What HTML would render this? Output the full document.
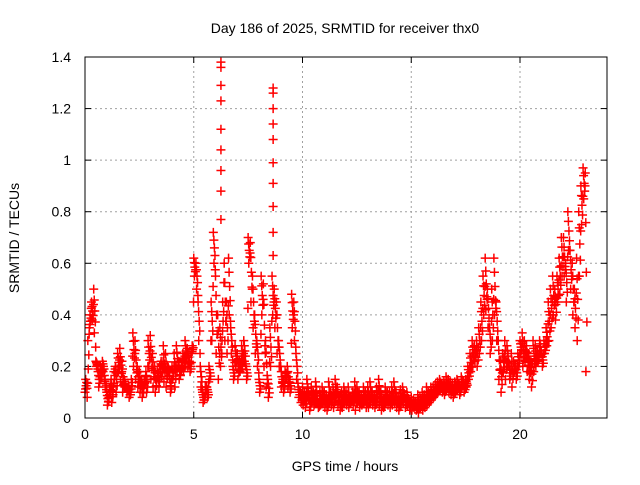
<!DOCTYPE html>
<html><head><meta charset="utf-8"><style>
body{margin:0;background:#fff;width:640px;height:480px;overflow:hidden}
svg{font-family:"Liberation Sans",sans-serif}
</style></head><body>
<svg id="chart" width="640" height="480" viewBox="0 0 640 480">
<text x="345" y="33" font-size="14" text-anchor="middle">Day 186 of 2025, SRMTID for receiver thx0</text>
<text x="345" y="471" font-size="14" text-anchor="middle">GPS time / hours</text>
<text transform="translate(19,238) rotate(-90)" font-size="14" text-anchor="middle">SRMTID / TECUs</text>
<g id="grid"></g><g id="ticks"></g><g id="marks"></g>
<rect x="85" y="57" width="522" height="361" fill="none" stroke="#000" stroke-width="1"/>
</svg>
<script>
const xTicks=[0,5,10,15,20];
const yTicks=[0,0.2,0.4,0.6,0.8,1,1.2,1.4];
const yTickLabels=["0","0.2","0.4","0.6","0.8","1","1.2","1.4"];
const startHour=0, stepHour=0.1;
const valuesA=[.10,.08,.35,.45,.50,.22,.18,.20,.22,.15,
.10,.08,.15,.12,.20,.25,.27,.22,.15,.12,
.12,.10,.33,.30,.20,.18,.15,.12,.18,.30,
.32,.25,.20,.15,.12,.22,.28,.25,.20,.15,
.20,.25,.28,.22,.18,.25,.30,.27,.22,.25,
.62,.60,.45,.20,.10,.08,.12,.20,.45,.72,
.55,.40,.35,.30,.60,.45,.62,.35,.20,.28,
.25,.22,.28,.30,.20,.70,.68,.55,.40,.30,
.15,.55,.52,.30,.15,.35,.55,.50,.45,.30,
.20,.15,.18,.20,.15,.48,.45,.25,.12,.10,
.12,.10,.15,.08,.12,.10,.14,.06,.10,.12,
.10,.08,.14,.10,.12,.15,.12,.08,.10,.12,
.10,.12,.08,.10,.14,.12,.10,.08,.12,.10,
.12,.14,.10,.09,.12,.15,.10,.08,.12,.10,
.10,.12,.14,.10,.08,.11,.12,.09,.10,.07,
.08,.07,.06,.09,.08,.10,.09,.12,.10,.12,
.12,.13,.14,.15,.13,.14,.16,.15,.14,.13,
.14,.15,.13,.16,.14,.15,.20,.25,.30,.28,
.30,.35,.45,.55,.62,.50,.35,.50,.62,.45,
.30,.22,.25,.30,.28,.20,.25,.22,.20,.25,
.30,.33,.30,.28,.25,.22,.30,.28,.25,.30,
.25,.30,.35,.45,.50,.55,.50,.55,.62,.70,
.70,.60,.80,.65,.60,.50,.62,.80,.90,.97,.95];
const valuesB=[.15,.30,.40,.38,.33,.20,.12,.15,.18,.12,
.05,.12,.06,.18,.10,.18,.14,.10,.12,.10,
.08,.15,.20,.15,.12,.10,.08,.15,.10,.20,
.15,.12,.10,.18,.20,.16,.14,.12,.18,.10,
.15,.12,.18,.15,.20,.18,.22,.20,.18,.28,
.55,.50,.30,.12,.06,.12,.08,.15,.30,.60,
.25,.15,.20,.45,.30,.25,.40,.25,.15,.20,
.15,.18,.20,.22,.15,.60,.45,.35,.25,.20,
.10,.40,.20,.12,.08,.20,.40,.35,.25,.20,
.12,.10,.15,.12,.10,.35,.30,.15,.08,.06,
.05,.04,.08,.03,.06,.05,.07,.04,.05,.06,
.04,.03,.06,.05,.04,.07,.05,.03,.04,.06,
.05,.04,.06,.05,.03,.06,.04,.05,.06,.04,
.04,.06,.05,.04,.06,.05,.03,.04,.06,.05,
.04,.05,.06,.04,.03,.05,.06,.04,.05,.03,
.03,.04,.03,.02,.04,.03,.04,.05,.06,.07,
.08,.09,.10,.11,.10,.09,.11,.10,.09,.08,
.10,.11,.09,.12,.10,.12,.15,.18,.20,.22,
.20,.25,.30,.40,.42,.35,.25,.30,.40,.30,
.15,.10,.18,.15,.20,.15,.12,.18,.15,.20,
.25,.20,.22,.18,.15,.12,.18,.20,.22,.25,
.20,.25,.28,.30,.35,.40,.38,.45,.48,.55,
.55,.45,.65,.50,.40,.35,.30,.55,.75,.85,.18];
const spikeTimes=[6.25,6.25,6.25,6.25,6.25,6.25,6.25,6.25,6.25,8.65,8.65,8.65,8.65,8.65,8.65,8.65,8.65,8.65,8.65];
const spikeValues=[1.38,1.36,1.29,1.23,1.12,1.04,0.96,0.88,0.77,1.28,1.26,1.20,1.14,1.08,0.99,0.91,0.82,0.72,0.63];
const NS='http://www.w3.org/2000/svg';
const X0=85,X1=607,Y0=418,Y1=57,XMAX=24,YMAX=1.4;
function xs(h){return X0+(X1-X0)*h/XMAX;}
function ys(v){return Y0-(Y0-Y1)*v/YMAX;}
function mk(tag,attrs,parent){const e=document.createElementNS(NS,tag);for(const k in attrs)e.setAttribute(k,attrs[k]);parent.appendChild(e);return e;}
const grid=document.getElementById('grid'),ticks=document.getElementById('ticks'),marks=document.getElementById('marks');
xTicks.forEach(t=>{const x=xs(t);
 if(t>0){const g=mk('line',{x1:x,y1:Y0,x2:x,y2:Y1,stroke:'#a0a0a0','stroke-dasharray':'2,3'},grid);
 
 }
 mk('line',{x1:x,y1:Y0,x2:x,y2:Y0-6,stroke:'#000'},ticks);
 mk('line',{x1:x,y1:Y1,x2:x,y2:Y1+6,stroke:'#000'},ticks);
 const l=mk('text',{x:x,y:Y0+21,'font-size':14,'text-anchor':'middle'},ticks);l.textContent=t;
 
 
});
yTicks.forEach((t,i)=>{const y=ys(t);
 if(t>0&&t<YMAX){const g=mk('line',{x1:X0,y1:y,x2:X1,y2:y,stroke:'#a0a0a0','stroke-dasharray':'2,3'},grid);
 
 }
 mk('line',{x1:X0,y1:y,x2:X0+6,y2:y,stroke:'#000'},ticks);
 mk('line',{x1:X1,y1:y,x2:X1-6,y2:y,stroke:'#000'},ticks);
 const l=mk('text',{x:X0-14,y:y+5,'font-size':14,'text-anchor':'end'},ticks);l.textContent=yTickLabels[i];
 
 
});
function plus(h,v){const x=xs(h),y=ys(v);
 const p=mk('path',{d:`M${x-4.5},${y}H${x+4.5}M${x},${y-4.5}V${y+4.5}`,stroke:'#ff0000','stroke-width':1.5,fill:'none'},marks);
 
 }
valuesA.forEach((v,i)=>{const h=startHour+i*stepHour;const b=valuesB[i];
 plus(h,v);plus(h+0.05,(v+b)/2);plus(h+0.025,(3*v+b)/4);plus(h+0.075,(v+3*b)/4);});
valuesB.forEach((v,i)=>{const h=startHour+i*stepHour;plus(h+0.03,v);
 if(i+1<valuesA.length){plus(h+0.09,(v+valuesA[i+1])/2);}});
spikeTimes.forEach((h,i)=>plus(h,spikeValues[i]));
</script>
</body></html>
